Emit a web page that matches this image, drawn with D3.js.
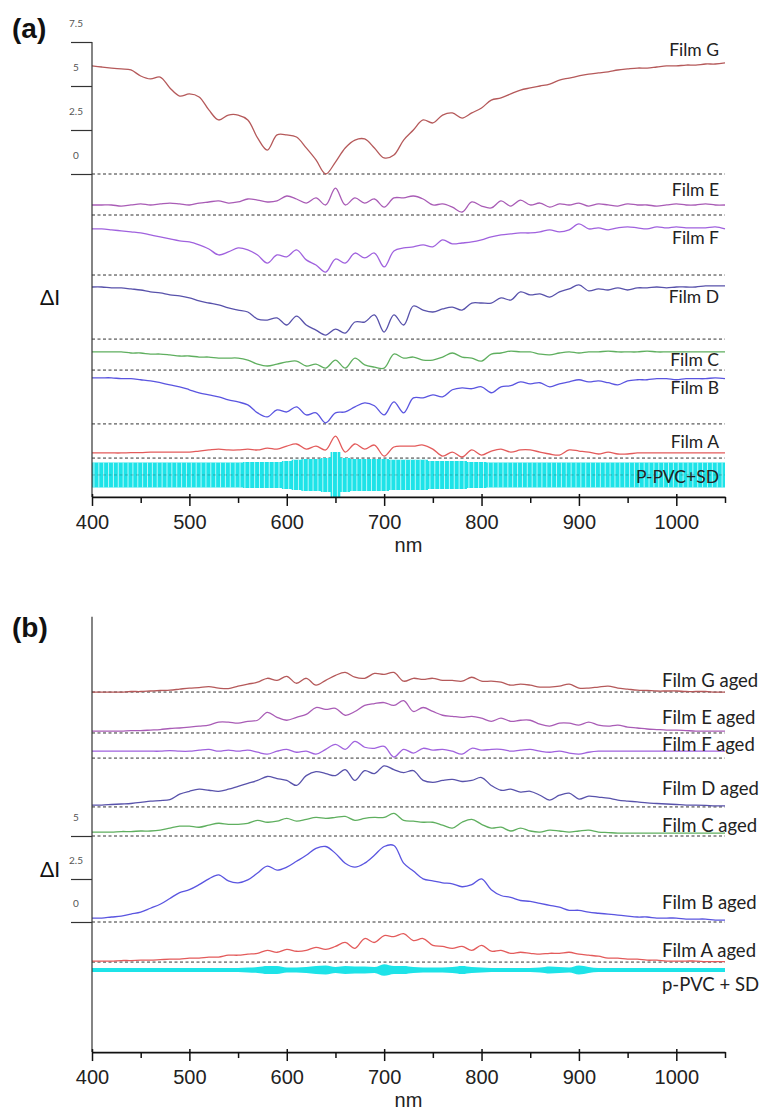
<!DOCTYPE html>
<html>
<head>
<meta charset="utf-8">
<script src="https://cdn.jsdelivr.net/npm/d3@7"></script>
<style>
  body { margin: 0; background: #fff; }
  svg { display: block; }
</style>
</head>
<body>
<div id="chart"></div>
<script>
// wavelength grid (nm)
const wavelengths = [400,410,420,430,440,450,460,470,480,490,
  500,510,520,530,540,550,560,570,580,590,
  600,610,620,630,640,650,660,670,680,690,
  700,710,720,730,740,750,760,770,780,790,
  800,810,820,830,840,850,860,870,880,890,
  900,910,920,930,940,950,960,970,980,990,
  1000,1010,1020,1030,1040,1050];

// ---- panel (a): ΔI of each film, relative to its own baseline ----
const filmG = [6.14,6.08,6.02,5.97,5.91,5.57,5.40,5.51,4.89,4.43,
  4.55,4.38,3.64,3.07,3.35,3.35,3.07,2.05,1.36,2.22,
  2.22,2.10,1.48,0.80,0.00,0.68,1.48,1.93,1.99,1.48,
  0.91,1.08,1.93,2.50,3.07,2.90,3.35,3.47,3.18,3.47,
  3.75,4.20,4.32,4.55,4.77,4.89,5.00,5.11,5.34,5.45,
  5.57,5.68,5.74,5.80,5.91,5.97,6.02,6.02,6.08,6.14,
  6.14,6.19,6.19,6.25,6.25,6.31];
const filmE = [.57,.57,.57,.51,.57,.63,.57,.63,.68,.63,
  .57,.68,.74,.80,.68,.74,.91,.85,.74,.80,
  1.08,.91,.68,.97,.57,1.53,.57,.97,.68,.91,
  .45,.97,.97,1.08,.91,.57,.63,.45,.17,.74,
  .51,.40,.80,.51,.85,.57,.68,.45,.63,.57,
  .68,.51,.63,.57,.51,.63,.57,.57,.51,.57,
  .63,.57,.57,.63,.57,.57];
const filmF = [2.62,2.62,2.57,2.51,2.45,2.39,2.28,2.17,2.05,1.94,
  1.88,1.71,1.48,1.14,1.31,1.54,1.43,1.14,0.68,1.14,
  1.03,1.43,0.86,0.57,0.17,0.91,0.68,1.25,0.97,1.25,
  0.46,1.37,1.54,1.60,1.71,1.60,2.00,1.77,1.82,1.88,
  2.00,2.17,2.28,2.34,2.39,2.39,2.45,2.57,2.45,2.57,
  2.91,2.62,2.68,2.57,2.68,2.74,2.68,2.62,2.74,2.68,
  2.74,2.68,2.68,2.68,2.74,2.62];
const filmD = [2.96,2.96,2.91,2.91,2.85,2.79,2.68,2.62,2.51,2.45,
  2.34,2.17,2.05,1.94,1.77,1.65,1.54,1.14,1.08,1.20,
  0.80,1.31,0.80,0.51,0.23,0.57,0.34,0.97,0.97,1.37,
  0.40,1.37,0.80,1.88,1.65,1.54,1.71,1.82,1.65,2.05,
  2.05,2.05,2.34,2.22,2.68,2.51,2.57,2.39,2.68,2.85,
  3.08,2.74,2.85,2.79,2.91,2.79,2.91,2.91,2.96,2.91,
  2.96,2.96,2.96,3.02,3.02,3.02];
const filmC = [1.03,1.03,1.03,1.03,0.97,0.97,0.91,0.91,0.86,0.80,
  0.80,0.74,0.74,0.68,0.68,0.68,0.57,0.34,0.23,0.34,
  0.46,0.51,0.23,0.34,0.11,0.57,0.11,0.68,0.29,0.17,
  0.11,0.91,0.68,0.74,0.57,0.57,0.74,0.97,0.74,0.68,
  0.51,0.91,0.97,1.08,1.03,1.03,0.91,0.86,0.97,1.03,
  0.97,1.03,1.03,1.08,1.03,1.03,1.03,1.08,1.03,1.03,
  1.03,1.03,1.03,1.03,1.03,1.03];
const filmB = [2.62,2.62,2.62,2.57,2.57,2.51,2.45,2.34,2.22,2.11,
  1.94,1.77,1.65,1.54,1.37,1.25,1.08,0.63,0.40,0.80,
  0.68,0.97,0.51,0.63,0.06,0.63,0.68,0.97,1.20,1.03,
  0.51,1.25,0.63,1.48,1.48,1.65,1.54,1.94,2.05,2.00,
  2.11,1.77,2.11,2.17,2.39,2.28,2.34,2.11,2.28,2.39,
  2.51,2.39,2.45,2.34,2.22,2.45,2.51,2.51,2.57,2.57,
  2.51,2.57,2.57,2.57,2.62,2.57];
const filmA = [.29,.29,.29,.29,.31,.31,.34,.34,.34,.34,
  .34,.40,.46,.51,.46,.46,.51,.46,.57,.51,
  .68,.80,.51,.68,.46,1.25,.34,.80,.51,.74,
  .11,.63,.68,.68,.74,.51,.11,.34,.06,.46,
  .17,.40,.51,.34,.46,.46,.34,.23,.17,.46,
  .40,.34,.23,.34,.23,.23,.29,.29,.29,.29,
  .29,.29,.29,.29,.29,.29];
const pvcSD = [.71,.71,.71,.71,.71,.71,.71,.71,.71,.71,
  .71,.71,.71,.71,.71,.71,.74,.74,.74,.74,
  .80,.86,.91,.91,.97,1.31,.97,.91,.91,.91,
  .91,.86,.86,.86,.86,.80,.80,.80,.80,.74,
  .74,.71,.71,.71,.71,.71,.71,.71,.71,.71,
  .71,.71,.71,.71,.71,.71,.71,.71,.71,.71,
  .71,.71,.71,.71,.71,.71];

const namesA = ["Film G", "Film E", "Film F", "Film D", "Film C", "Film B", "Film A"];
const offsetsA = [0, -2.33, -5.74, -9.38, -11.14, -14.2, -16.14];
const pvcOffsetA = -17.1;
const pvcNameA = "P-PVC+SD";

// ---- panel (b): aged films ----
const agedG = [0,0,0,0,.03,.03,.06,.09,.11,.17,
  .23,.26,.31,.23,.20,.34,.46,.57,.80,.68,
  .91,.51,.80,.40,.68,.97,1.14,.86,.80,1.08,
  1.03,1.14,.63,.80,.74,.80,.68,.68,.63,.86,
  .63,.63,.57,.40,.46,.40,.29,.29,.34,.46,
  .23,.23,.29,.34,.23,.17,.11,.09,.06,.06,
  .06,.03,.03,.03,0,0];
const agedE = [.11,.11,.11,.11,.14,.14,.17,.20,.26,.29,
  .34,.40,.46,.63,.63,.57,.68,.74,1.20,.91,
  .74,.91,1.08,1.48,1.37,1.43,1.03,1.25,1.60,1.71,
  1.77,1.60,1.88,1.25,1.48,1.25,1.03,.97,.91,.97,
  .86,.68,.86,.68,.74,.74,.51,.40,.57,.57,
  .46,.63,.46,.40,.46,.34,.29,.23,.20,.17,
  .17,.14,.11,.11,.11,.11];
const agedF = [.40,.40,.40,.40,.40,.40,.40,.40,.43,.40,
  .40,.46,.51,.40,.46,.40,.46,.34,.23,.40,
  .51,.34,.40,.23,.51,.80,.51,.97,.63,.57,
  .68,.06,.51,.29,.57,.46,.51,.40,.23,.57,
  .46,.51,.51,.40,.46,.51,.40,.34,.40,.29,
  .23,.34,.40,.40,.40,.40,.40,.40,.40,.40,
  .40,.40,.40,.40,.40,.40];
const agedD = [.11,.11,.14,.17,.20,.26,.34,.37,.43,.74,
  .91,1.03,.97,.91,1.03,1.20,1.37,1.54,1.77,1.65,
  1.54,1.25,1.82,2.05,1.94,1.82,2.17,1.54,2.11,1.94,
  2.39,2.17,2.00,2.11,1.54,1.43,1.54,1.60,1.48,1.54,
  1.71,1.25,.97,1.03,.86,.91,.68,.40,.68,.80,
  .46,.63,.57,.51,.40,.34,.29,.23,.20,.17,
  .14,.11,.11,.09,.06,.06];
const agedC = [.23,.23,.23,.26,.26,.29,.29,.34,.46,.57,
  .57,.51,.63,.74,.68,.68,.74,.91,.80,.86,
  1.03,.86,.97,1.08,1.03,1.08,1.14,.91,1.03,1.08,
  1.08,1.31,.91,.86,.80,.80,.63,.46,.80,.97,
  .68,.46,.51,.29,.46,.29,.23,.34,.29,.23,
  .29,.34,.23,.20,.17,.17,.17,.17,.17,.17,
  .17,.17,.17,.17,.17,.17];
const agedB = [.23,.23,.29,.34,.46,.57,.80,1.03,1.37,1.71,
  1.88,2.17,2.51,2.74,2.39,2.28,2.45,2.85,3.25,3.02,
  3.19,3.53,3.88,4.28,4.39,3.99,3.42,3.19,3.42,3.88,
  4.39,4.45,3.42,2.96,2.51,2.39,2.28,2.22,2.05,2.17,
  2.51,1.88,1.54,1.43,1.25,1.20,1.08,.97,.86,.68,
  .68,.57,.51,.46,.40,.34,.29,.29,.23,.23,
  .23,.17,.17,.17,.11,.11];
const agedA = [.06,.06,.06,.09,.09,.11,.11,.14,.17,.17,
  .23,.23,.29,.29,.40,.40,.46,.51,.68,.57,
  .74,.63,.68,.86,.74,.91,1.14,.80,1.37,1.14,
  1.54,1.48,1.65,1.25,1.37,.97,.91,.80,.91,.68,
  .97,.63,.68,.51,.57,.51,.46,.51,.51,.57,
  .46,.40,.34,.23,.23,.17,.17,.11,.11,.06,
  .06,.06,.06,.03,.03,.03];
const pvcAgedSD = [.11,.11,.11,.11,.11,.11,.11,.11,.11,.11,
  .11,.11,.11,.11,.11,.11,.14,.17,.23,.23,
  .14,.14,.17,.23,.26,.17,.23,.20,.20,.17,
  .34,.23,.23,.17,.14,.14,.14,.17,.23,.17,
  .14,.11,.11,.11,.11,.11,.14,.20,.17,.14,
  .26,.17,.11,.11,.11,.11,.11,.11,.11,.11,
  .11,.11,.11,.11,.11,.11];

const namesB = ["Film G aged", "Film E aged", "Film F aged", "Film D aged", "Film C aged", "Film B aged", "Film A aged"];
const offsetsB = [13.37, 10.99, 9.53, 6.69, 5.0, 0, -2.33];
const pvcOffsetB = -2.79;
const pvcNameB = "p-PVC + SD";

const yTickValues = [0, 2.5, 5, 7.5];
const xTickValues = [400,450,500,550,600,650,700,750,800,850,900,950,1000,1050];

// ---- styles / layout ----
const lineColors = ["#b5595a", "#a95cb6", "#a062de", "#5852ab", "#5faf5f", "#5a55e0", "#e35b5b"];
const cyan = "#1ee3e8";

const svg = d3.select("#chart").append("svg")
    .attr("width", 762)
    .attr("height", 1119);

const x = d3.scaleLinear().domain([400, 1050]).range([92, 725]);

const panels = [
  {
    y: d3.scaleLinear().domain([0, 7.5]).range([174, 42]),
    top: 7.5, bottom: -18.35, ticks: yTickValues,
    series: [filmG, filmE, filmF, filmD, filmC, filmB, filmA],
    names: namesA, offsets: offsetsA,
    pvc: pvcSD, pvcOffset: pvcOffsetA, pvcName: pvcNameA,
    labelAt: [7.05, -0.91, -3.64, -6.99, -10.57, -12.16, -15.23, -17.22],
    labelX: 719, labelAnchor: "end", labelSize: 17.5,
    letter: "(a)", letterY: 38, deltaY: 297
  },
  {
    y: d3.scaleLinear().domain([0, 5]).range([922, 836]),
    top: 17.75, bottom: -7.56, ticks: [0, 2.5, 5],
    series: [agedG, agedE, agedF, agedD, agedC, agedB, agedA],
    names: namesB, offsets: offsetsB,
    pvc: pvcAgedSD, pvcOffset: pvcOffsetB, pvcName: pvcNameB,
    labelAt: [14.07, 11.92, 10.35, 7.79, 5.64, 1.16, -1.63, -3.6],
    labelX: 662, labelAnchor: "start", labelSize: 18.5,
    letter: "(b)", letterY: 637, deltaY: 869
  }
];

panels.forEach((p, pi) => {
  const y = p.y;
  const g = svg.append("g");

  // dashed baselines
  g.selectAll(".base")
    .data(p.offsets)
    .enter().append("line")
    .attr("x1", x(400)).attr("x2", x(1050))
    .attr("y1", d => y(d)).attr("y2", d => y(d))
    .attr("stroke", "#333")
    .attr("stroke-width", 1)
    .attr("stroke-dasharray", "3,2.5");

  // p-PVC + SD band
  const band = d3.area()
    .x((d, i) => x(wavelengths[i]))
    .y0(d => y(p.pvcOffset - d))
    .y1(d => y(p.pvcOffset + d))
    .curve(pi === 0 ? d3.curveStep : d3.curveMonotoneX);

  g.append("path")
    .datum(p.pvc)
    .attr("d", band)
    .attr("fill", cyan);

  if (pi === 0) {
    // thin light stripes like the dense error bars
    const clipId = "bandclip" + pi;
    g.append("clipPath").attr("id", clipId)
      .append("path").datum(p.pvc).attr("d", band);
    g.append("g")
      .attr("clip-path", `url(#${clipId})`)
      .selectAll("line")
      .data(d3.range(402, 1050, 5))
      .enter().append("line")
      .attr("x1", d => x(d)).attr("x2", d => x(d))
      .attr("y1", y(p.pvcOffset + 2)).attr("y2", y(p.pvcOffset - 2))
      .attr("stroke", "#c9fbfc")
      .attr("stroke-width", 0.9);
    g.append("line")
      .attr("x1", x(400)).attr("x2", x(1050))
      .attr("y1", y(p.pvcOffset)).attr("y2", y(p.pvcOffset))
      .attr("stroke", "#333").attr("stroke-dasharray", "3,2.5")
      .attr("opacity", 0.3);
  } else {
    g.append("line")
      .attr("x1", x(400)).attr("x2", x(1050))
      .attr("y1", y(p.pvcOffset)).attr("y2", y(p.pvcOffset))
      .attr("stroke", cyan).attr("stroke-width", 2.5);
  }

  // spectra
  p.series.forEach((s, i) => {
    const line = d3.line()
      .x((d, j) => x(wavelengths[j]))
      .y(d => y(p.offsets[i] + d))
      .curve(d3.curveCatmullRom.alpha(0.5));
    g.append("path")
      .datum(s)
      .attr("d", line)
      .attr("fill", "none")
      .attr("stroke", lineColors[i])
      .attr("stroke-width", 1.3)
      .attr("stroke-linejoin", "round");
  });

  // series labels
  g.selectAll(".lab")
    .data(p.names.concat([p.pvcName]))
    .enter().append("text")
    .attr("x", p.labelX)
    .attr("y", (d, i) => y(p.labelAt[i]))
    .attr("dy", "0.36em")
    .attr("text-anchor", p.labelAnchor)
    .style("font-family", "Lato, 'Open Sans', sans-serif")
    .style("font-size", p.labelSize + "px")
    .style("fill", "#222")
    .text(d => d);

  // y axis
  g.append("line")
    .attr("x1", x(400)).attr("x2", x(400))
    .attr("y1", y(p.top)).attr("y2", y(p.bottom))
    .attr("stroke", "#333").attr("stroke-width", 1.2);

  const yAxis = g.append("g")
    .attr("transform", `translate(${x(400)},0)`)
    .call(d3.axisLeft(y).tickValues(p.ticks).tickSize(21).tickFormat(d => d));
  yAxis.select(".domain").remove();
  yAxis.selectAll(".tick line").attr("stroke", "#333").attr("stroke-width", 1.2);
  yAxis.selectAll(".tick text")
    .attr("x", -16)
    .attr("y", -19)
    .attr("dy", "0.35em")
    .attr("text-anchor", "middle")
    .style("font-family", "Lato, sans-serif")
    .style("font-size", "10px")
    .style("fill", "#555");

  // x axis
  const xAxis = g.append("g")
    .attr("transform", `translate(0,${y(p.bottom)})`)
    .call(d3.axisBottom(x).tickValues(xTickValues).tickSize(9).tickSizeOuter(0).tickPadding(9)
      .tickFormat(d => d % 100 === 0 ? d : ""));
  xAxis.select(".domain").attr("stroke", "#111").attr("stroke-width", 1.8);
  xAxis.selectAll(".tick line")
    .attr("y1", d => d % 100 === 0 ? -3 : 0)
    .attr("y2", d => d % 100 === 0 ? 9 : 6)
    .attr("stroke", "#111").attr("stroke-width", 1.5);
  xAxis.selectAll(".tick text")
    .style("font-family", "'Liberation Sans', Arial, sans-serif")
    .style("font-size", "20px")
    .style("fill", "#222");

  g.append("text")
    .attr("x", (x(400) + x(1050)) / 2)
    .attr("y", y(p.bottom) + 55)
    .attr("text-anchor", "middle")
    .style("font-family", "'Liberation Sans', Arial, sans-serif")
    .style("font-size", "20px")
    .style("fill", "#222")
    .text("nm");

  // ΔI label
  g.append("text")
    .attr("x", 50)
    .attr("y", p.deltaY)
    .attr("dy", "0.36em")
    .attr("text-anchor", "middle")
    .style("font-family", "Lato, sans-serif")
    .style("font-size", "21px")
    .style("fill", "#111")
    .text("ΔI");

  // panel letter
  svg.append("text")
    .attr("x", 12)
    .attr("y", p.letterY)
    .style("font-family", "'Liberation Sans', Arial, sans-serif")
    .style("font-weight", "bold")
    .style("font-size", "28px")
    .style("fill", "#111")
    .text(p.letter);
});
</script>
</body>
</html>
